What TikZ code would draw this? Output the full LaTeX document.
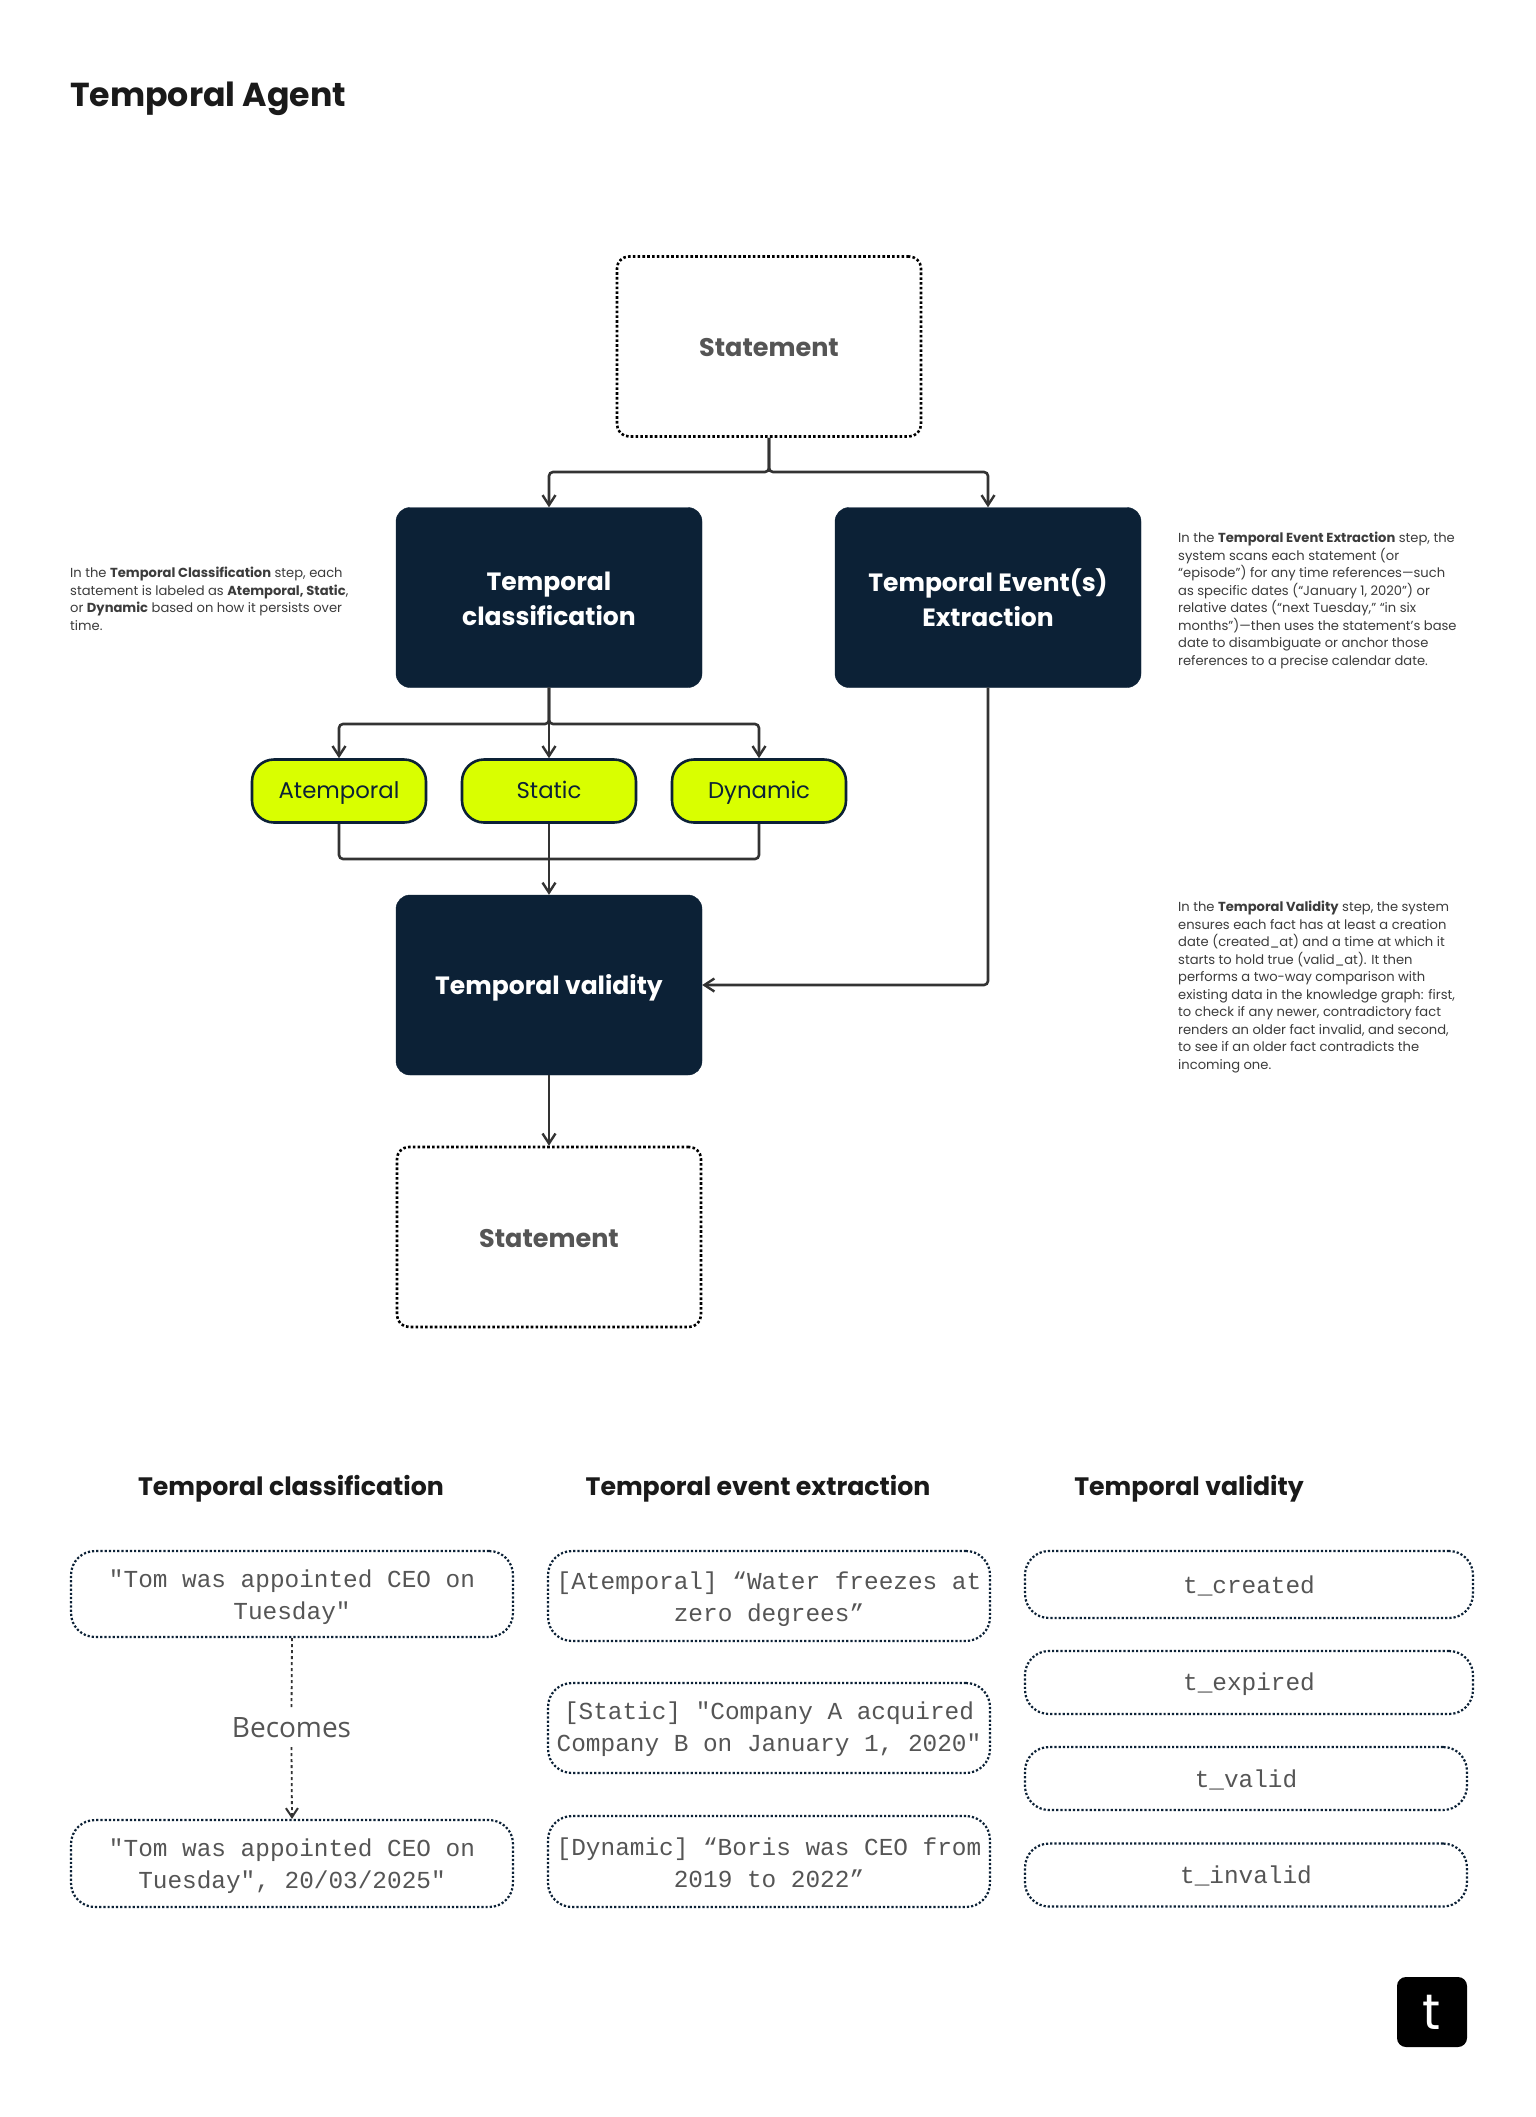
\documentclass[tikz,border=0pt]{standalone}
\usepackage{fontspec}
\setmainfont{Poppins}
\setmonofont{Liberation Mono}
\newfontfamily\becomesfont{Open Sans}
\usetikzlibrary{arrows.meta,calc}
\definecolor{navy}{HTML}{0C2136}
\definecolor{lime}{HTML}{D9FF00}
\definecolor{ink}{HTML}{1A1A1A}
\definecolor{greytext}{HTML}{555555}
\definecolor{wire}{HTML}{333333}
\newcommand{\mtop}[1]{\rule{0pt}{#1pt}}
\newcommand{\mone}[1]{\rule[-6pt]{0pt}{#1pt}}
\tikzset{
  darkbox/.style={draw=navy,fill=navy,rounded corners=14pt,minimum width=306pt,minimum height=180pt,text=white,align=center,inner sep=0pt,font=\fontsize{25}{35}\selectfont\bfseries},
  stmtbox/.style={draw=black,line width=2.6pt,dash pattern=on 2.6pt off 2.2pt,rounded corners=12pt,minimum width=304pt,minimum height=180pt,text=greytext,align=center,font=\fontsize{25.5}{30}\selectfont\bfseries},
  pill/.style={draw=navy,line width=2.6pt,fill=lime,rounded corners=22pt,minimum width=174pt,minimum height=63pt,text=navy,font=\fontsize{22.8}{28}\selectfont},
  monobox/.style={draw=navy,line width=2.2pt,dash pattern=on 2.2pt off 2pt,rounded corners=24pt,text=greytext,align=center,inner sep=0pt,font=\ttfamily\fontsize{24.4}{32}\selectfont},
  heading/.style={text=ink,font=\fontsize{25.2}{32}\selectfont\bfseries},
  note/.style={text=ink!85!white,align=left,anchor=north west,inner sep=0pt,font=\fontsize{13.1}{17.5}\selectfont},
  wireline/.style={draw=wire,line width=2.6pt,rounded corners=4pt},
  wiretip/.style={wireline,-{Straight Barb[length=10pt,width=13pt,line width=2.4pt]}},
  dotline/.style={draw=wire,line width=1.8pt,dash pattern=on 3pt off 3pt},
}
\begin{document}
\begin{tikzpicture}[x=1pt,y=-1pt]
\useasboundingbox (0,0) rectangle (1536,2117);
\fill[white] (0,0) rectangle (1536,2117);

\node[anchor=west,inner sep=0pt,text=ink,font=\fontsize{33.2}{40}\selectfont\bfseries] (title) at (70,99) {Temporal Agent};

\node[stmtbox] (st1) at (769,346.5) {\mtop{21}Statement};
\node[darkbox] (tc) at (549,597.5) {\mtop{22}Temporal\\classification};
\node[darkbox] (te) at (988,597.5) {\mtop{20}Temporal Event(s)\\Extraction};
\node[pill] (at) at (339,791) {\mone{26}Atemporal};
\node[pill] (sc) at (549,791) {\mone{26}Static};
\node[pill] (dy) at (759,791) {\mone{26}Dynamic};
\node[darkbox] (tv) at (549,985) {\rule[-5pt]{0pt}{31pt}Temporal validity};
\node[stmtbox] (st2) at (549,1237) {\mtop{21}Statement};

\coordinate (j1) at (769,472);
\coordinate (j2) at (549,724);
\coordinate (j3) at (549,859);

\draw[wiretip] (st1.south) -- (j1) -| (tc.north);
\draw[wiretip] (st1.south) -- (j1) -| (te.north);
\draw[wiretip] (tc.south) -- (j2) -| (at.north);
\draw[wiretip] (tc.south) -- (sc.north);
\draw[wiretip] (tc.south) -- (j2) -| (dy.north);
\draw[wireline] (at.south) |- (j3);
\draw[wireline] (dy.south) |- (j3);
\draw[wiretip] (sc.south) -- (tv.north);
\draw[wiretip] (te.south) |- (tv.east);
\draw[wiretip] (tv.south) -- (st2.north);

\node[note] (n1) at (70,567) {In the \textbf{Temporal Classification} step, each\\statement is labeled as \textbf{Atemporal, Static},\\or \textbf{Dynamic} based on how it persists over\\time.};
\node[note] (n2) at (1178,532) {In the \textbf{Temporal Event Extraction} step, the\\system scans each statement (or\\“episode”) for any time references—such\\as specific dates (“January 1, 2020”) or\\relative dates (“next Tuesday,” “in six\\months”)—then uses the statement’s base\\date to disambiguate or anchor those\\references to a precise calendar date.};
\node[note] (n3) at (1178,901) {In the \textbf{Temporal Validity} step, the system\\ensures each fact has at least a creation\\date (created\_at) and a time at which it\\starts to hold true (valid\_at). It then\\performs a two-way comparison with\\existing data in the knowledge graph: first,\\to check if any newer, contradictory fact\\renders an older fact invalid, and second,\\to see if an older fact contradicts the\\incoming one.};

\node[heading] (h1) at (291,1489) {Temporal classification};
\node[heading] (h2) at (758,1489) {Temporal event extraction};
\node[heading] (h3) at (1189,1489) {Temporal validity};

\node[monobox,minimum width=442pt,minimum height=86pt] (a1) at (292,1594) {\mtop{25}"Tom was appointed CEO on\\Tuesday"};
\node[monobox,minimum width=442pt,minimum height=87pt] (a2) at (292,1863.5) {\mtop{24}"Tom was appointed CEO on\\Tuesday", 20/03/2025"};
\node[inner sep=0pt,minimum height=38pt,text=greytext,font=\becomesfont\fontsize{28}{32}\selectfont] (bc) at (291.5,1728) {Becomes};
\draw[dotline] (a1.south) -- (bc.north);
\draw[dotline,-{Straight Barb[length=9pt,width=12pt,line width=2pt]}] (bc.south) -- (a2.north);

\node[monobox,minimum width=442pt,minimum height=90pt] (b1) at (769,1596) {\mtop{24}[Atemporal] “Water freezes at\\zero degrees”};
\node[monobox,minimum width=442pt,minimum height=90pt] (b2) at (769,1728) {\mtop{21}[Static] "Company A acquired\\Company B on January 1, 2020"};
\node[monobox,minimum width=442pt,minimum height=91pt] (b3) at (769,1861.5) {\mtop{21}[Dynamic] “Boris was CEO from\\2019 to 2022”};

\node[monobox,minimum width=448pt,minimum height=67pt] (c1) at (1249,1584.5) {\mone{30}t\_created};
\node[monobox,minimum width=448pt,minimum height=63pt] (c2) at (1249,1682.5) {\mone{28}t\_expired};
\node[monobox,minimum width=442pt,minimum height=63pt] (c3) at (1246,1778.5) {\mone{30}t\_valid};
\node[monobox,minimum width=442pt,minimum height=63pt] (c4) at (1246,1875) {\mone{28}t\_invalid};

\node[fill=black,rounded corners=9pt,minimum width=70pt,minimum height=70pt,inner sep=0pt,text=white,font=\fontsize{50}{50}\selectfont] (logo) at (1432,2012) {t};
\end{tikzpicture}
\end{document}
